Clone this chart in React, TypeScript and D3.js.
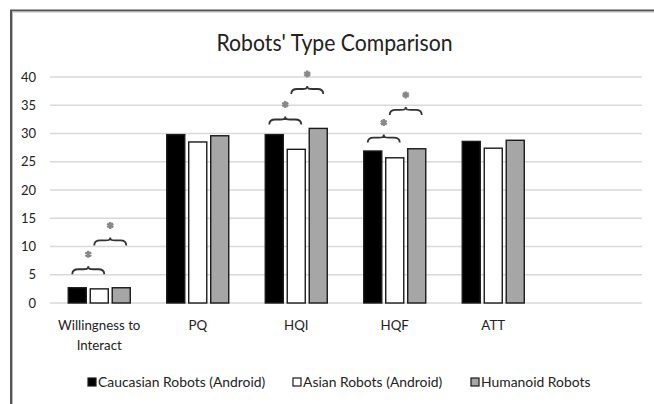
import React from "react";
import * as d3 from "d3";

const categories = ["Willingness to\nInteract", "PQ", "HQI", "HQF", "ATT", ""];
const seriesNames = ["Caucasian Robots (Android)", "Asian Robots (Android)", "Humanoid Robots"];
const caucasian = [2.7, 29.8, 29.8, 26.9, 28.6];
const asian = [2.5, 28.5, 27.2, 25.7, 27.4];
const humanoid = [2.7, 29.6, 30.9, 27.3, 28.8];
const yTicks = [0, 5, 10, 15, 20, 25, 30, 35, 40];
// significance braces: category index, left series, right series, level (value units)
const sigCat = [0, 0, 2, 2, 3, 3];
const sigFrom = [0, 1, 0, 1, 0, 1];
const sigTo = [1, 2, 1, 2, 1, 2];
const sigLevel = [5.8, 10.9, 32.3, 37.7, 29.1, 34.0];

const fills = ["#000000", "#ffffff", "#a6a6a6"];
const FONT = "Lato, 'Open Sans', sans-serif";

export default function App() {
  const W = 654, H = 404;
  const y = d3.scaleLinear().domain([0, 40]).range([303, 77]);
  const x = d3.scaleBand<string>().domain(categories.map((c, i) => i + "")).range([50, 641]).paddingInner(0).paddingOuter(0);
  const xs = d3.scaleBand<string>().domain(["0", "1", "2"]).range([0, x.bandwidth()]).paddingInner(0.18).paddingOuter(0.83);
  const series = [caucasian, asian, humanoid];
  const star = d3.symbol().type(d3.symbolAsterisk).size(34)();

  const brace = (x0: number, x1: number, yy: number) => {
    const xm = (x0 + x1) / 2;
    return `M${x0},${yy + 4} C${x0},${yy} ${x0 + 2},${yy - 1} ${x0 + 6},${yy - 1} L${xm - 5},${yy - 1} C${xm - 2},${yy - 1} ${xm},${yy - 1} ${xm},${yy - 4} C${xm},${yy - 1} ${xm + 2},${yy - 1} ${xm + 5},${yy - 1} L${x1 - 6},${yy - 1} C${x1 - 2},${yy - 1} ${x1},${yy} ${x1},${yy + 4}`;
  };

  const legendX = [88, 293, 471];

  return (
    <svg width={W} height={H} style={{ position: "absolute", left: 0, top: 0 }} fontFamily={FONT}>
      <rect x={0} y={0} width={W} height={H} fill="#fff" />
      {/* frame */}
      <line x1={10} x2={W} y1={10.5} y2={10.5} stroke="#555" strokeWidth={2} />
      <line x1={10} x2={W} y1={12} y2={12} stroke="#bbb" strokeWidth={1} />
      <line x1={11} x2={11} y1={10} y2={H} stroke="#555" strokeWidth={2} />
      <line x1={12.5} x2={12.5} y1={12} y2={H} stroke="#bbb" strokeWidth={1} />
      {/* title */}
      <text x={334.5} y={50.5} textAnchor="middle" fontSize={23} fill="#222" textLength={236} lengthAdjust="spacingAndGlyphs">Robots' Type Comparison</text>
      {/* gridlines */}
      {yTicks.map((t) => (
        <g key={t}>
          <line x1={50} x2={642} y1={y(t)} y2={y(t)} stroke="#d9d9d9" strokeWidth={1.5} />
          <text x={36} y={y(t) + 4.5} textAnchor="end" fontSize={13} fill="#222">{t}</text>
        </g>
      ))}
      {/* bars */}
      {series.map((vals, s) =>
        vals.map((v, i) => {
          const bx = (x(i + "") as number) + (xs(s + "") as number);
          return (
            <rect key={s + "-" + i} x={bx} y={y(v)} width={xs.bandwidth()} height={y(0) - y(v)}
              fill={fills[s]} stroke="#1a1a1a" strokeWidth={1.4} />
          );
        })
      )}
      {/* category labels */}
      {categories.map((c, i) => {
        const cx = (x(i + "") as number) + x.bandwidth() / 2;
        return c.split("\n").map((line, k) => (
          <text key={i + "-" + k} x={cx} y={330 + k * 19.5} textAnchor="middle" fontSize={13.3} fill="#222">{line}</text>
        ));
      })}
      {/* significance braces */}
      {sigCat.map((c, k) => {
        const base = x(c + "") as number;
        const c0 = base + (xs(sigFrom[k] + "") as number) + xs.bandwidth() / 2;
        const c1 = base + (xs(sigTo[k] + "") as number) + xs.bandwidth() / 2;
        const xm = (c0 + c1) / 2;
        const yy = y(sigLevel[k]);
        return (
          <g key={"sig" + k}>
            <path d={brace(xm - 16, xm + 16, yy)} fill="none" stroke="#333" strokeWidth={1.8} />
            <path d={star || ""} transform={`translate(${xm},${yy - 16})`} fill="none" stroke="#888" strokeWidth={2.4} />
          </g>
        );
      })}
      {/* legend */}
      {seriesNames.map((n, s) => (
        <g key={n}>
          <rect x={legendX[s]} y={378} width={8} height={8} fill={fills[s]} stroke="#1a1a1a" strokeWidth={1.2} />
          <text x={legendX[s] + 10} y={387} fontSize={13.9} fill="#222">{n}</text>
        </g>
      ))}
    </svg>
  );
}
